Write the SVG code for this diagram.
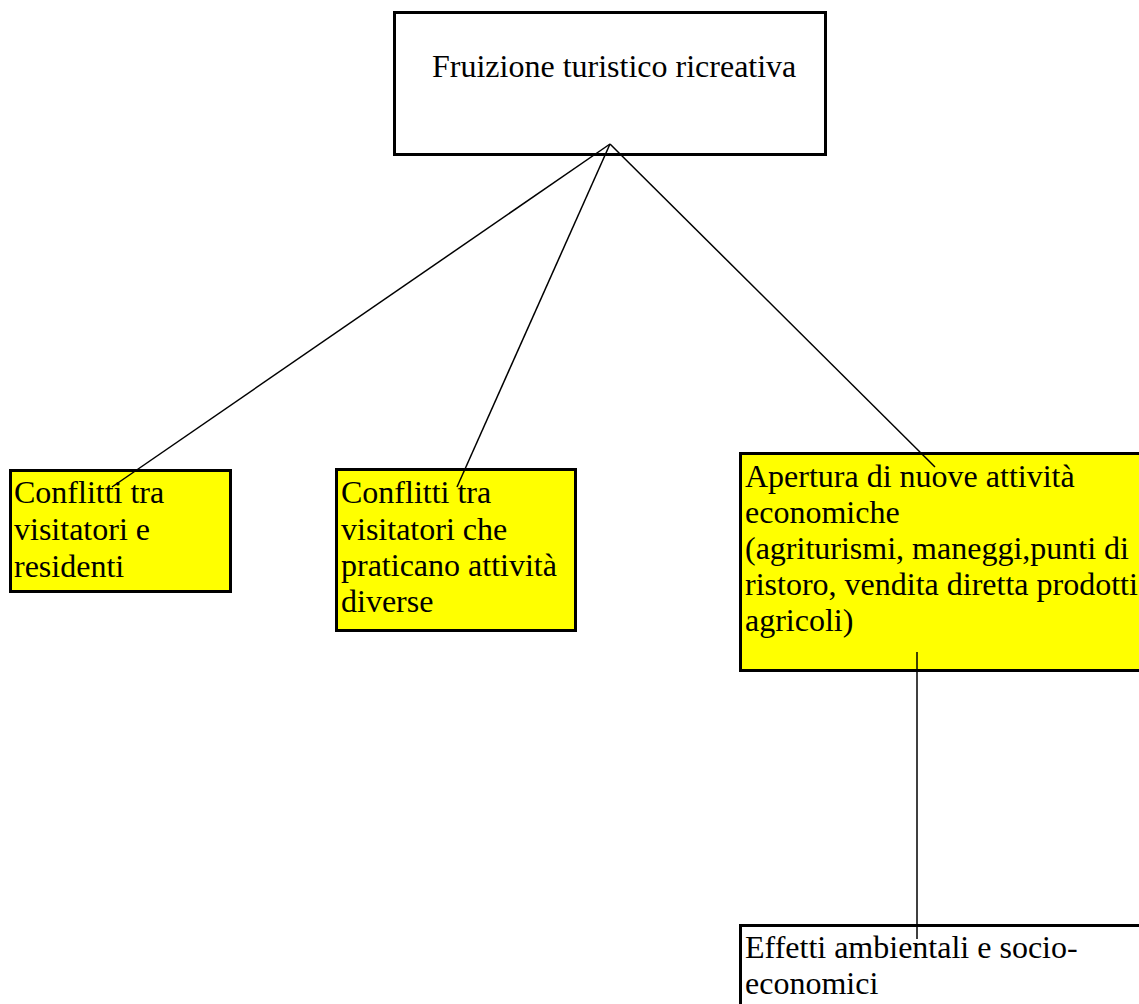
<svg xmlns="http://www.w3.org/2000/svg" width="1139" height="1004" viewBox="0 0 1139 1004">
<style>
.box{stroke:#000;stroke-width:3}
.y{fill:#ffff00}
.w{fill:#fff}
text{font-family:"Liberation Serif","Times New Roman",serif;font-size:32px;fill:#000}
.c line{stroke:#000;stroke-width:1.5}
</style>
<rect x="0" y="0" width="1139" height="1004" fill="#fff"/>
<g id="n0">
<rect class="box w" x="394.5" y="12.5" width="431" height="142"/>
<text x="432" y="77">Fruizione turistico ricreativa</text>
</g>
<g id="n1">
<rect class="box y" x="10.5" y="470.5" width="220" height="121"/>
<text x="14" y="503">Conflitti tra</text>
<text x="14" y="540">visitatori e</text>
<text x="14" y="577">residenti</text>
</g>
<g id="n2">
<rect class="box y" x="336.5" y="469.5" width="239" height="161"/>
<text x="341" y="503">Conflitti tra</text>
<text x="341" y="540">visitatori che</text>
<text x="341" y="576">praticano attività</text>
<text x="341" y="612">diverse</text>
</g>
<g id="n3">
<rect class="box y" x="740.5" y="453.5" width="402" height="217"/>
<text x="745" y="487">Apertura di nuove attività</text>
<text x="745" y="523">economiche</text>
<text x="745" y="559">(agriturismi, maneggi,punti di</text>
<text x="745" y="595">ristoro, vendita diretta prodotti</text>
<text x="745" y="631">agricoli)</text>
</g>
<g id="n4">
<rect class="box w" x="740.5" y="925.5" width="402" height="100"/>
<text x="745" y="958">Effetti ambientali e socio-</text>
<text x="745" y="994">economici</text>
</g>
<g id="connectors" class="c">
<line x1="610" y1="144" x2="112" y2="487"/>
<line x1="610" y1="144" x2="457" y2="487"/>
<line x1="610" y1="144" x2="935" y2="467"/>
<line x1="917" y1="652" x2="917" y2="939"/>
</g>
</svg>
